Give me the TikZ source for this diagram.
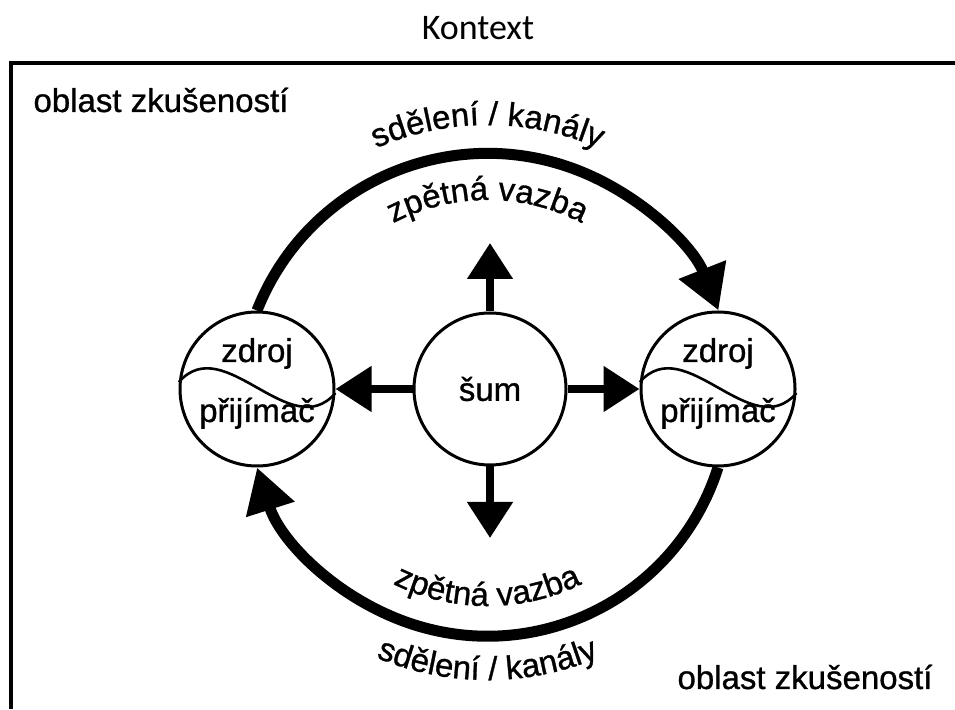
\documentclass[tikz,border=0pt]{standalone}
\usepackage{fontspec}
\usepackage{tikz}
\usetikzlibrary{arrows.meta}
\usetikzlibrary{decorations.text}
\newfontfamily\diafont[FakeBold=0.9]{Liberation Sans}
\newfontfamily\titlefont{Carlito}
\newcommand{\arcfont}{\diafont\fontsize{33}{39}\selectfont}

\begin{document}
\begin{tikzpicture}[x=1pt,y=1pt,
	lbl/.style={font=\arcfont, inner sep=0pt},
	party/.style={circle, draw, line width=3pt, minimum size=154pt, inner sep=0pt},
	wave/.style={line width=2.6pt},
	flowarr/.style={line width=11pt, -{Triangle[length=44pt,width=48pt]}},
	noisearr/.style={line width=8pt, -{Triangle[length=36pt,width=44pt]}},
	arctext/.style={decorate, decoration={text along path, text align=center, text={|\arcfont|#1}}}]
	\useasboundingbox (0,0) rectangle (955,709);
	
	%FRAME
	\node[font=\titlefont\fontsize{36}{43}\selectfont] (title) at (478,681) {Kontext};
	\draw[line width=4pt] (11,0)--(11,646)--(955,646);
	\node[lbl] (areaA) at (161,609) {oblast zkušeností};
	\node[lbl] (areaB) at (805,32) {oblast zkušeností};
	
	%CIRCLES
	\node[party] (lsrc) at (257,320) {};
	\node[party] (rsrc) at (718,320) {};
	\node[party, minimum size=152pt] (noise) at (490,320) {};
	\node[lbl] (sum) at (noise.center) {šum};
	%
	\draw[wave] (lsrc.175) .. controls +(45,52) and +(-45,-52) .. (lsrc.-3);
	\draw[wave] (rsrc.175) .. controls +(45,52) and +(-45,-52) .. (rsrc.-3);
	\node[lbl, anchor=base] (lz) at ([yshift=27pt]lsrc.center) {zdroj};
	\node[lbl, anchor=base] (lp) at ([yshift=-33pt]lsrc.center) {přijímač};
	\node[lbl, anchor=base] (rz) at ([yshift=27pt]rsrc.center) {zdroj};
	\node[lbl, anchor=base] (rp) at ([yshift=-33pt]rsrc.center) {přijímač};
	
	%NOISE ARROWS
	\coordinate (up) at (490,466);
	\coordinate (down) at (490,171);
	\draw[noisearr] (noise.north)--(up);
	\draw[noisearr] (noise.south)--(down);
	\draw[noisearr] (noise.west)--(lsrc.east);
	\draw[noisearr] (noise.east)--(rsrc.west);
	
	%BIG ARCS
	\draw[flowarr] (lsrc.north) arc[start angle=158.5, end angle=21.5, radius=248];
	\draw[flowarr] (rsrc.south) arc[start angle=-17.6, end angle=-162.4, radius=241.8];
	
	%ARC LABELS
	\coordinate (uc) at (487.5,306);
	\coordinate (lc) at (487.5,316);
	\path[arctext={sdělení / kanály}] (uc) ++(140:278) arc[start angle=140, end angle=40, radius=278];
	\path[arctext={zpětná vazba}] (uc) ++(140:203) arc[start angle=140, end angle=40, radius=203];
	\path[arctext={zpětná vazba}] (lc) ++(220:213) arc[start angle=220, end angle=320, radius=213];
	\path[arctext={sdělení / kanály}] (lc) ++(220:287) arc[start angle=220, end angle=320, radius=287];
\end{tikzpicture}
\end{document}
